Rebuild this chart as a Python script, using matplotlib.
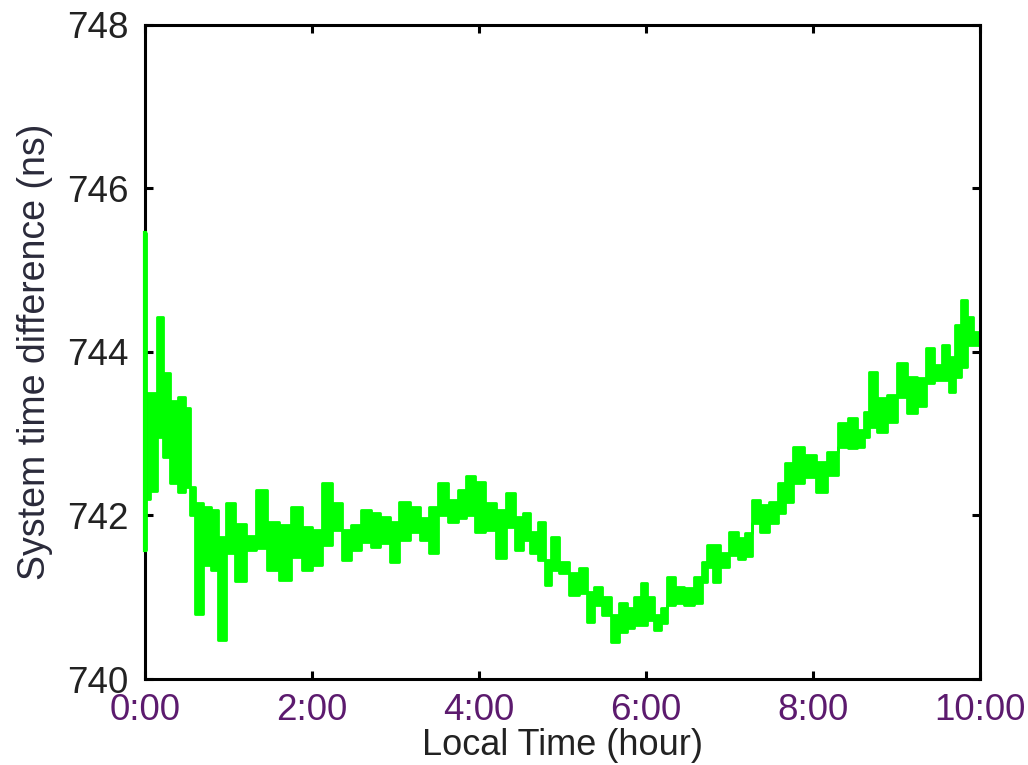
import numpy as np
import matplotlib
matplotlib.use('Agg')
import matplotlib.pyplot as plt

t_hours = [0.0, 0.03, 0.10, 0.18, 0.26, 0.35, 0.44, 0.51, 0.56, 0.65, 0.75, 0.83, 0.91,
           1.02, 1.14, 1.27, 1.40, 1.53, 1.68, 1.82, 1.95, 2.06, 2.18, 2.30, 2.41, 2.53,
           2.65, 2.76, 2.88, 2.98, 3.11, 3.23, 3.35, 3.45, 3.56, 3.70, 3.80, 3.90, 4.00,
           4.14, 4.28, 4.38, 4.48, 4.57, 4.66, 4.76, 4.83, 4.90, 5.01, 5.15, 5.26, 5.34,
           5.43, 5.52, 5.64, 5.73, 5.82, 5.90, 5.98, 6.06, 6.14, 6.22, 6.30, 6.40, 6.52,
           6.64, 6.70, 6.76, 6.84, 6.95, 7.05, 7.15, 7.23, 7.32, 7.42, 7.53, 7.63, 7.70,
           7.83, 7.97, 8.10, 8.24, 8.37, 8.48, 8.58, 8.64, 8.72, 8.82, 8.95, 9.07, 9.19,
           9.31, 9.40, 9.51, 9.59, 9.67, 9.74, 9.81, 9.88, 9.96, 10.0]
upper = [745.45, 743.5, 743.5, 744.43, 743.74, 743.4, 743.45, 743.31, 742.35, 742.15, 742.1,
         742.07, 741.74, 742.15, 741.9, 741.75, 742.31, 741.92, 741.88, 742.1, 741.86, 741.82,
         742.4, 742.15, 741.82, 741.88, 742.07, 742.03, 741.98, 741.92, 742.17, 742.1, 741.97,
         742.1, 742.4, 742.19, 742.31, 742.48, 742.41, 742.15, 742.07, 742.27, 741.98, 742.03,
         741.8, 741.92, 741.46, 741.74, 741.43, 741.3, 741.36, 741.06, 741.13, 741.0, 740.78,
         740.93, 740.87, 741.0, 741.17, 741.0, 740.78, 740.87, 741.25, 741.13, 741.11, 741.25,
         741.43, 741.64, 741.64, 741.54, 741.8, 741.72, 741.79, 742.19, 742.13, 742.17, 742.4,
         742.64, 742.84, 742.74, 742.65, 742.78, 743.13, 743.19, 743.05, 743.27, 743.76, 743.44,
         743.47, 743.86, 743.69, 743.68, 744.05, 743.84, 744.09, 743.94, 744.33, 744.64, 744.43,
         744.25, 744.2]
lower = [741.58, 742.2, 742.3, 742.96, 742.72, 742.4, 742.29, 742.35, 742.0, 740.8, 741.4,
         741.33, 740.48, 741.54, 741.2, 741.58, 741.6, 741.33, 741.21, 741.49, 741.33, 741.4,
         741.64, 741.82, 741.46, 741.58, 741.68, 741.62, 741.66, 741.43, 741.7, 741.8, 741.7,
         741.54, 742.0, 741.92, 741.97, 742.0, 741.8, 741.82, 741.48, 741.86, 741.58, 741.7,
         741.54, 741.46, 741.15, 741.33, 741.3, 741.03, 741.05, 740.7, 740.9, 740.78, 740.45,
         740.57, 740.62, 740.66, 740.66, 740.72, 740.6, 740.68, 740.9, 740.93, 740.9, 740.93,
         741.19, 741.37, 741.19, 741.37, 741.52, 741.47, 741.5, 741.91, 741.8, 741.91, 742.03,
         742.17, 742.4, 742.47, 742.29, 742.5, 742.84, 742.83, 742.84, 742.96, 743.08, 743.02,
         743.14, 743.45, 743.25, 743.34, 743.62, 743.66, 743.66, 743.51, 743.69, 743.82, 744.09,
         744.09, 744.09]

x_ticks = [0, 2, 4, 6, 8, 10]
x_labels = ['0:00', '2:00', '4:00', '6:00', '8:00', '10:00']
y_ticks = [740, 742, 744, 746, 748]

plt.rcParams['font.family'] = ['Liberation Sans', 'DejaVu Sans']

fig = plt.figure(figsize=(10.28, 7.65), dpi=100)
ax = fig.add_axes([0.141, 0.1124, 0.812, 0.855])

green = '#00ff00'
ax.fill_between(t_hours, lower, upper, step='mid', color=green, lw=0)
ax.step(t_hours, upper, where='mid', color=green, lw=2)
ax.step(t_hours, lower, where='mid', color=green, lw=2)
# first spike sits on top of the left spine
ax.plot([0, 0], [lower[0], upper[0]], color=green, lw=3, zorder=5, clip_on=False)

ax.set_xlim(0, 10)
ax.set_ylim(740, 748)
ax.set_xticks(x_ticks)
ax.set_xticklabels(x_labels, color='#5c1a6e')
ax.set_yticks(y_ticks)
ax.tick_params(direction='in', length=6, width=2.2, labelsize=26.5,
               top=True, right=True)
ax.tick_params(axis='x', pad=10)
ax.tick_params(axis='y', labelcolor='#222222', pad=12)
for s in ax.spines.values():
    s.set_linewidth(2.2)

ax.set_xlabel('Local Time (hour)', fontsize=26, color='#222222', labelpad=0)
ax.set_ylabel('System time difference (ns)', fontsize=27, color='#2a2a3a', labelpad=10)

fig.savefig('out.png', dpi=100)
